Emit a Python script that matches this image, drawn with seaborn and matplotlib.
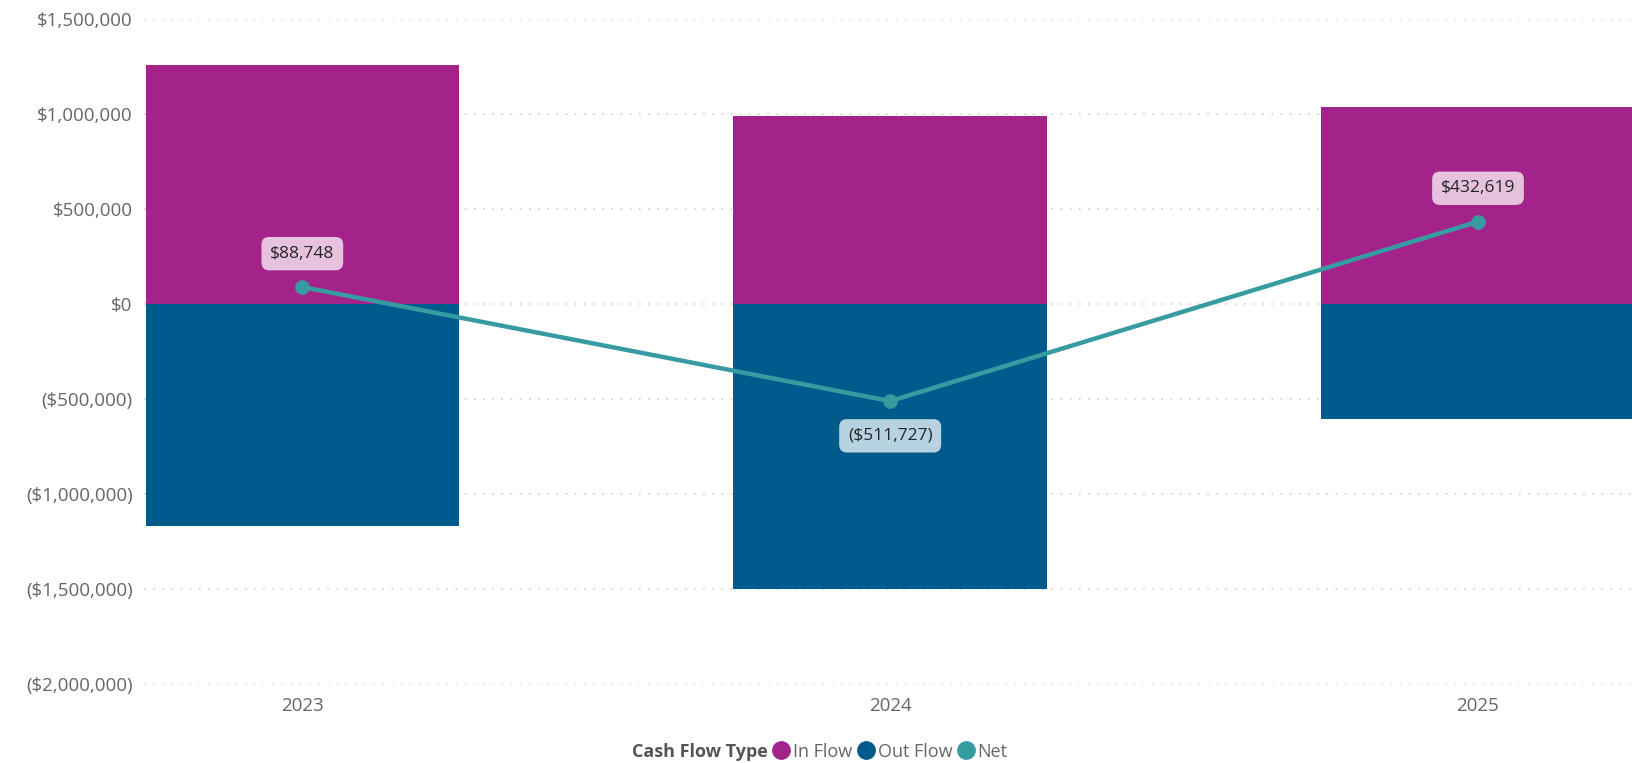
import matplotlib
matplotlib.use("Agg")
import matplotlib.pyplot as plt
from matplotlib.lines import Line2D
from matplotlib.ticker import FuncFormatter
import seaborn as sns
import pandas as pd

# Cash flow by fiscal year
years = ["2023", "2024", "2025"]
in_flow = [1258000, 990000, 1036000]
out_flow = [-1169252, -1501727, -603381]
net = [88748, -511727, 432619]

y_ticks = [-2000000, -1500000, -1000000, -500000, 0, 500000, 1000000, 1500000]

C_IN = "#A3238B"
C_OUT = "#015A8C"
C_NET = "#379CA2"
TXT = "#666666"

sns.set_theme(style="white")
plt.rcParams["font.family"] = ["Open Sans", "DejaVu Sans"]

df = pd.DataFrame({"year": years, "in": in_flow, "out": out_flow, "net": net})

fig = plt.figure(figsize=(16.32, 7.63), dpi=100)
ax = fig.add_axes([0.088, 0.1035, 0.912, 0.872])

sns.barplot(data=df, x="year", y="in", color=C_IN, width=0.5335,
            saturation=1, linewidth=0, edgecolor="none", ax=ax, zorder=2)
sns.barplot(data=df, x="year", y="out", color=C_OUT, width=0.5335,
            saturation=1, linewidth=0, edgecolor="none", ax=ax, zorder=2)

xpos = list(range(len(years)))
ax.plot(xpos, net, color=C_NET, lw=3.2, marker="o", ms=9.5,
        solid_capstyle="round", zorder=4)

# value labels for the net line
for x, v in zip(xpos, net):
    if v >= 0:
        txt = f"${v:,.0f}"
        off = 24
        box = "#E6C2DE"
    else:
        txt = f"(${-v:,.0f})"
        off = -25
        box = "#B7D3E1"
    ax.annotate(txt, (x, v), xytext=(0, off), textcoords="offset points",
                ha="center", va="center", fontsize=12.5, color="#252525",
                bbox=dict(boxstyle="round,pad=0.5,rounding_size=0.45",
                          fc=box, ec="none"), zorder=5)

ax.set_xlim(-0.27, 2.262)
ax.set_ylim(-2000000, 1500000)
ax.set_yticks(y_ticks)


def money(v, _pos):
    if v < 0:
        return f"(${-v:,.0f})"
    return f"${v:,.0f}"


ax.yaxis.set_major_formatter(FuncFormatter(money))
ax.yaxis.grid(True, color="#C8C8C8", linestyle=(0, (1, 5)), lw=1.1, zorder=0)
ax.xaxis.grid(False)
ax.set_axisbelow(True)
for s in ax.spines.values():
    s.set_visible(False)
ax.tick_params(axis="both", length=0, colors=TXT, labelsize=13.5)
ax.tick_params(axis="y", pad=8)
ax.tick_params(axis="x", pad=9)
ax.set_xlabel("")
ax.set_ylabel("")

# legend row at the bottom
handles = [Line2D([], [], ls="none")]
labels = ["Cash Flow Type"]
for lab, col in [("In Flow", C_IN), ("Out Flow", C_OUT), ("Net", C_NET)]:
    handles.append(Line2D([], [], ls="none", marker="o", ms=12.5, color=col))
    labels.append(lab)
leg = fig.legend(handles, labels, loc="center", bbox_to_anchor=(0.496, 0.015),
                 ncol=4, frameon=False, fontsize=13, handlelength=1.0,
                 handletextpad=0.15, columnspacing=0.25)
for t in leg.get_texts():
    t.set_color(TXT)
leg.get_texts()[0].set_fontweight("bold")
leg.get_texts()[0].set_color("#555555")

fig.savefig("out.png", dpi=100)
